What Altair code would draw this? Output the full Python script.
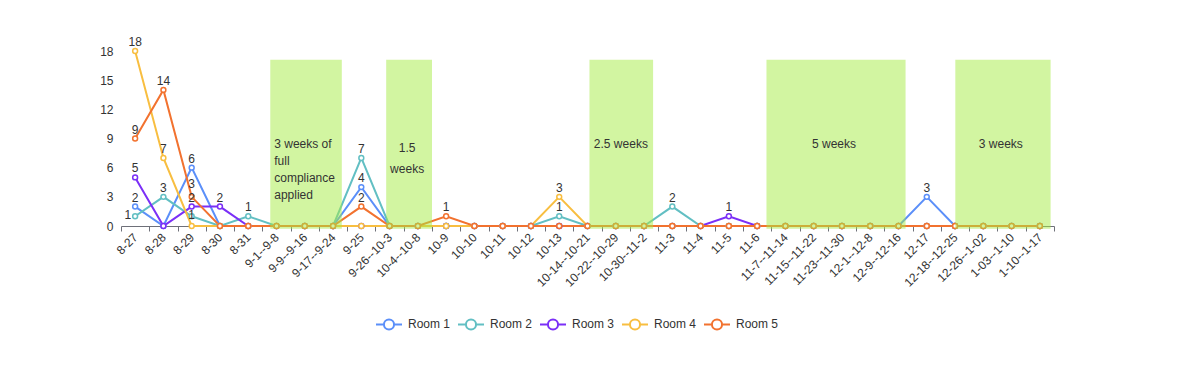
import altair as alt
import pandas as pd

categories = ["8-27", "8-28", "8-29", "8-30", "8-31", "9-1--9-8", "9-9--9-16", "9-17--9-24",
              "9-25", "9-26--10-3", "10-4--10-8", "10-9", "10-10", "10-11", "10-12", "10-13",
              "10-14--10-21", "10-22--10-29", "10-30--11-2", "11-3", "11-4", "11-5", "11-6",
              "11-7--11-14", "11-15--11-22", "11-23--11-30", "12-1--12-8", "12-9--12-16",
              "12-17", "12-18--12-25", "12-26--1-02", "1-03--1-10", "1-10--1-17"]

series_names = ["Room 1", "Room 2", "Room 3", "Room 4", "Room 5"]
room1 = [2, 0, 6, 0, 0, 0, 0, 0, 4, 0, 0, 0, 0, 0, 0, 0, 0, 0, 0, 0, 0, 0, 0, 0, 0, 0, 0, 0, 3, 0, 0, 0, 0]
room2 = [1, 3, 1, 0, 1, 0, 0, 0, 7, 0, 0, 0, 0, 0, 0, 1, 0, 0, 0, 2, 0, 0, 0, 0, 0, 0, 0, 0, 0, 0, 0, 0, 0]
room3 = [5, 0, 2, 2, 0, 0, 0, 0, 0, 0, 0, 0, 0, 0, 0, 0, 0, 0, 0, 0, 0, 1, 0, 0, 0, 0, 0, 0, 0, 0, 0, 0, 0]
room4 = [18, 7, 0, 0, 0, 0, 0, 0, 0, 0, 0, 0, 0, 0, 0, 3, 0, 0, 0, 0, 0, 0, 0, 0, 0, 0, 0, 0, 0, 0, 0, 0, 0]
room5 = [9, 14, 3, 0, 0, 0, 0, 0, 2, 0, 0, 1, 0, 0, 0, 0, 0, 0, 0, 0, 0, 0, 0, 0, 0, 0, 0, 0, 0, 0, 0, 0, 0]
colors = ["#5B8FF9", "#62BFC3", "#7B2FF7", "#F8BE40", "#F2722F"]

# highlighted periods (fractional category index)
period_start = [4.78, 8.88, 16.07, 22.33, 29.01]
period_end = [7.31, 10.50, 18.32, 27.25, 32.38]
period_top = [17.1, 17.1, 17.1, 17.1, 17.1]
period_bottom = [-0.27, -0.27, -0.27, -0.27, -0.27]

note_left_text = [["3 weeks of", "full", "compliance", "applied"]]
note_left_x = [4.92]
note_left_y = [8.44]
note_text = [["2.5 weeks"], ["5 weeks"], ["3 weeks"]]
note_x = [17.18, 24.72, 30.62]
note_y = [8.4, 8.4, 8.4]
note2_text = [["1.5", "weeks"]]
note2_x = [9.62]
note2_y = [8.05]

rows = []
for name, vals in zip(series_names, [room1, room2, room3, room4, room5]):
    for i, v in enumerate(vals):
        rows.append({"idx": i, "cat": categories[i], "series": name, "value": v})
df = pd.DataFrame(rows)

rect_df = pd.DataFrame({"x0": period_start, "x1": period_end, "top": period_top, "bottom": period_bottom})
noteL_df = pd.DataFrame({"x": note_left_x, "y": note_left_y, "text": note_left_text})
note_df = pd.DataFrame({"x": note_x, "y": note_y, "text": note_text})
note2_df = pd.DataFrame({"x": note2_x, "y": note2_y, "text": note2_text})

FONT = "Liberation Sans"
W, H = 933, 175

band_scale = alt.Scale(type="band", domain=categories, paddingInner=0, paddingOuter=0)
num_scale = alt.Scale(domain=[-0.5, 32.5], nice=False, zero=False)
y_scale = alt.Scale(domain=[0, 18], nice=False)

x_axis = alt.Axis(
    tickBand="extent", labelAngle=-45, labelAlign="right", labelBaseline="middle",
    labelOverlap=False, labelFont=FONT, labelFontSize=12, labelColor="#333", labelPadding=4,
    tickColor="#6E7079", tickSize=5, domainColor="#6E7079", grid=False, title=None,
)
y_axis = alt.Axis(values=[0, 3, 6, 9, 12, 15, 18], domain=False, ticks=False, grid=False,
                  labelOverlap=False, labelFont=FONT, labelFontSize=12, labelColor="#333",
                  labelPadding=8, title=None)

X = alt.X("cat:N", scale=band_scale, axis=x_axis, sort=categories)
Y = alt.Y("value:Q", scale=y_scale, axis=y_axis)

color = alt.Color(
    "series:N",
    scale=alt.Scale(domain=series_names, range=colors),
    legend=alt.Legend(
        title=None, orient="none", direction="horizontal", legendX=254, legendY=259,
        symbolType="M-1,0L-0.39,0M0.39,0A0.39,0.39,0,1,1,-0.39,0A0.39,0.39,0,1,1,0.39,0M0.39,0L1,0",
        symbolSize=676, symbolStrokeWidth=2, symbolFillColor="white",
        labelFont=FONT, labelFontSize=12, labelColor="#333", labelOffset=5, columnPadding=3,
    ),
)

base = alt.Chart(df)
lines = base.mark_line(strokeWidth=2).encode(x=X, y=Y, color=color, order="idx:Q")
points = base.mark_point(shape="circle", filled=False, fill="white", fillOpacity=1,
                         strokeWidth=1.5, size=24, opacity=1).encode(x=X, y=Y, color=color)

txt = dict(font=FONT, fontSize=12, color="#333", baseline="middle")
room2_first = "datum.series === 'Room 2' && datum.idx === 0"
room2_third = "datum.series === 'Room 2' && datum.idx === 2"
room5_third = "datum.series === 'Room 5' && datum.idx === 2"
labels = base.transform_filter(
    f"datum.value > 0 && !({room2_first}) && !({room2_third}) && !({room5_third})"
).mark_text(dy=-9, **txt).encode(x=X, y=Y, text="value:Q")
label_left = base.transform_filter(room2_first).mark_text(align="right", dx=-4, dy=-1, **txt).encode(
    x=X, y=Y, text="value:Q")
label_mid = base.transform_filter(room2_third).mark_text(dy=-1, **txt).encode(
    x=X, y=Y, text="value:Q")
label_high = base.transform_filter(room5_third).mark_text(dy=-13, **txt).encode(
    x=X, y=Y, text="value:Q")

series_layer = alt.layer(lines, points, labels, label_left, label_mid, label_high)

XN = alt.X("x0:Q", scale=num_scale, axis=None)
rects = alt.Chart(rect_df).mark_rect(color="#A6EB44", opacity=0.5).encode(
    x=XN, x2="x1:Q", y=alt.Y("top:Q", scale=y_scale, axis=y_axis), y2="bottom:Q",
)
XT = alt.X("x:Q", scale=num_scale, axis=None)
YT = alt.Y("y:Q", scale=y_scale, axis=y_axis)
notesL = alt.Chart(noteL_df).mark_text(align="left", lineHeight=17, **txt).encode(x=XT, y=YT, text="text")
notes = alt.Chart(note_df).mark_text(align="center", **txt).encode(x=XT, y=YT, text="text")
notes2 = alt.Chart(note2_df).mark_text(align="center", lineHeight=21, **txt).encode(x=XT, y=YT, text="text")
overlay = alt.layer(rects, notesL, notes, notes2)

chart = alt.layer(series_layer, overlay).resolve_scale(x="independent").properties(
    width=W, height=H,
    autosize=alt.AutoSizeParams(type="none"),
    padding={"left": 121, "top": 51, "right": 1179 - 121 - W, "bottom": 376 - 51 - H},
    background="white",
).configure_view(stroke=None)

chart.save("out.html", embed_options={"renderer": "svg", "actions": False})
